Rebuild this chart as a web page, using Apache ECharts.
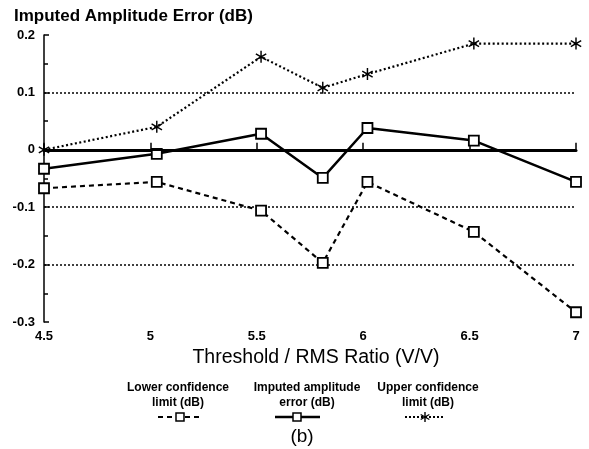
<!DOCTYPE html>
<html>
<head>
<meta charset="utf-8">
<script src="https://cdn.jsdelivr.net/npm/echarts@6/dist/echarts.min.js"></script>
<style>html,body{margin:0;padding:0;background:#fff;}#c{width:589px;height:449px;}</style>
</head>
<body>
<div id="c"></div>
<script>
var xValues = [4.5, 5.03, 5.52, 5.81, 6.02, 6.52, 7.0];
var imputedError = [-0.033, -0.007, 0.028, -0.049, 0.038, 0.016, -0.056];
var lowerLimit = [-0.067, -0.056, -0.106, -0.197, -0.056, -0.143, -0.283];
var upperLimit = [0.0, 0.04, 0.162, 0.108, 0.132, 0.185, 0.185];
var seriesNames = ['Lower confidence limit (dB)', 'Imputed amplitude error (dB)', 'Upper confidence limit (dB)'];

function pairs(ys) { return xValues.map(function (x, i) { return [x, ys[i]]; }); }

var star = 'path://M-1.2,-10L1.2,-10L1.2,10L-1.2,10Z M8.06,-6.04L9.26,-3.96L-8.06,6.04L-9.26,3.96Z M-9.26,-3.96L-8.06,-6.04L9.26,3.96L8.06,6.04Z';
var FONT = 'Liberation Sans, Arial, sans-serif';

function asterisk(cx, cy, r) {
  var out = [];
  for (var k = 0; k < 3; k++) {
    var a = Math.PI / 2 + k * Math.PI / 3;
    out.push({type: 'line', shape: {x1: cx - r * Math.cos(a), y1: cy - r * Math.sin(a), x2: cx + r * Math.cos(a), y2: cy + r * Math.sin(a)},
      style: {stroke: '#000', lineWidth: 1.4}});
  }
  return out;
}

var legendText = {fontFamily: FONT, fontSize: 12, fontWeight: 'bold', fill: '#000', align: 'center', verticalAlign: 'middle', lineHeight: 15};

var graphics = [
  {type: 'text', x: 178, y: 395, style: Object.assign({text: 'Lower confidence\nlimit (dB)'}, legendText)},
  {type: 'line', shape: {x1: 158, y1: 417, x2: 202, y2: 417}, style: {stroke: '#000', lineWidth: 2, lineDash: [5, 4]}},
  {type: 'rect', shape: {x: 176, y: 413, width: 8, height: 8}, style: {fill: '#fff', stroke: '#000', lineWidth: 1.5}},
  {type: 'text', x: 307, y: 395, style: Object.assign({text: 'Imputed amplitude\nerror (dB)'}, legendText)},
  {type: 'line', shape: {x1: 275, y1: 417, x2: 320, y2: 417}, style: {stroke: '#000', lineWidth: 2.5}},
  {type: 'rect', shape: {x: 293, y: 413, width: 8, height: 8}, style: {fill: '#fff', stroke: '#000', lineWidth: 1.5}},
  {type: 'text', x: 428, y: 395, style: Object.assign({text: 'Upper confidence\nlimit (dB)'}, legendText)},
  {type: 'line', shape: {x1: 405, y1: 417, x2: 445, y2: 417}, style: {stroke: '#000', lineWidth: 2, lineDash: [2, 2]}},
  {type: 'text', x: 302, y: 437, style: {text: '(b)', fontFamily: FONT, fontSize: 19, fill: '#000', align: 'center', verticalAlign: 'middle'}}
].concat(asterisk(425, 417, 5));

var chart = echarts.init(document.getElementById('c'), null, {renderer: 'canvas'});
chart.setOption({
  backgroundColor: '#fff',
  animation: false,
  title: {
    text: 'Imputed Amplitude Error (dB)',
    left: 9, top: 3,
    textStyle: {fontFamily: FONT, fontSize: 17, fontWeight: 'bold', color: '#000'}
  },
  grid: {left: 44, right: 13, top: 35, bottom: 127},
  xAxis: {
    type: 'value', min: 4.5, max: 7, interval: 0.5,
    name: 'Threshold / RMS Ratio (V/V)', nameLocation: 'middle', nameGap: 23,
    nameTextStyle: {fontFamily: FONT, fontSize: 19.5, color: '#000', padding: [0, 0, 0, 12]},
    axisLine: {show: true, lineStyle: {color: '#000', width: 3}},
    axisTick: {show: true, inside: true, length: 7, lineStyle: {color: '#000', width: 1.5}},
    axisLabel: {fontFamily: FONT, fontSize: 13, fontWeight: 'bold', color: '#000', margin: 8},
    splitLine: {show: false}
  },
  yAxis: {
    type: 'value', min: -0.3, max: 0.2, interval: 0.1,
    axisLine: {show: true, lineStyle: {color: '#000', width: 1.5}},
    axisTick: {show: true, inside: true, length: 5, lineStyle: {color: '#000', width: 1.5}},
    minorTick: {show: true, splitNumber: 2, length: 4, lineStyle: {color: '#000', width: 1.5}},
    axisLabel: {fontFamily: FONT, fontSize: 13, fontWeight: 'bold', color: '#000', margin: 9,
      formatter: function (v) { return String(Math.round(v * 10) / 10); }},
    splitLine: {show: true, lineStyle: {type: [2, 2], width: 1.5,
      color: ['rgba(0,0,0,0)', '#000', '#000', 'rgba(0,0,0,0)', '#000', 'rgba(0,0,0,0)']}}
  },
  series: [
    {
      name: seriesNames[0], type: 'line', data: pairs(lowerLimit),
      lineStyle: {color: '#000', width: 2.2, type: [5, 4]},
      symbol: 'rect', symbolSize: 10,
      itemStyle: {color: '#fff', borderColor: '#000', borderWidth: 1.8}
    },
    {
      name: seriesNames[1], type: 'line', data: pairs(imputedError),
      lineStyle: {color: '#000', width: 2.5, type: 'solid'},
      symbol: 'rect', symbolSize: 10,
      itemStyle: {color: '#fff', borderColor: '#000', borderWidth: 1.8},
      markLine: {silent: true, symbol: 'none', label: {show: false},
        lineStyle: {color: '#000', width: 2, type: 'solid'}, data: [{yAxis: 0}]},
      z: 3
    },
    {
      name: seriesNames[2], type: 'line', data: pairs(upperLimit),
      lineStyle: {color: '#000', width: 2.2, type: [2, 2.5]},
      symbol: star, symbolSize: 12, symbolKeepAspect: true,
      itemStyle: {color: '#000'}
    }
  ],
  graphic: graphics
});
</script>
</body>
</html>
